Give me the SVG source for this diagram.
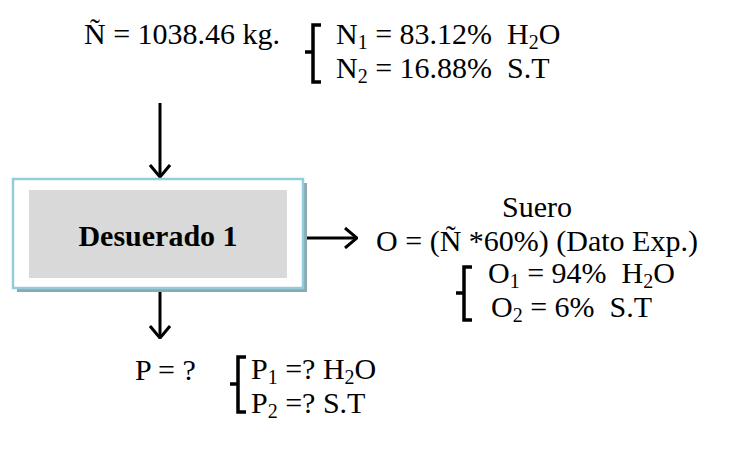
<svg xmlns="http://www.w3.org/2000/svg" width="732" height="460" viewBox="0 0 732 460">
<style>
text{font-family:"Liberation Serif","Times New Roman",serif;font-size:30px;fill:#000}
.b{font-weight:bold}
.s{font-size:20px}
.ln{stroke:#000;stroke-width:3;fill:none}
.br{stroke:#000;stroke-width:3.5;fill:none;stroke-linejoin:miter}
</style>
<defs>
<marker id="ah" viewBox="0 0 14 22" refX="13" refY="11" markerWidth="14" markerHeight="22" markerUnits="userSpaceOnUse" orient="auto">
<path d="M1,1 L13,11 L1,21" fill="none" stroke="#000" stroke-width="3"/>
</marker>
</defs>
<g id="connectors">
<line class="ln" x1="160" y1="103" x2="160" y2="177" marker-end="url(#ah)"/>
<line class="ln" x1="305" y1="238" x2="357" y2="238" marker-end="url(#ah)"/>
<line class="ln" x1="160" y1="290" x2="160" y2="338" marker-end="url(#ah)"/>
</g>
<g id="input">
<text x="84" y="44">Ñ = 1038.46 kg.</text>
<path class="br" d="M321,25 H313 V52 H305 M313,52 V82 H321"/>
<text x="336" y="44">N<tspan class="s" dy="5">1</tspan><tspan dy="-5"> = 83.12%&#160; H</tspan><tspan class="s" dy="5">2</tspan><tspan dy="-5">O</tspan></text>
<text x="336" y="78">N<tspan class="s" dy="5">2</tspan><tspan dy="-5"> = 16.88%&#160; S.T</tspan></text>
</g>
<g id="desuerado">
<rect x="17" y="183" width="290" height="109" fill="#8DA7B3"/>
<rect x="13" y="179" width="290" height="109" fill="#fff" stroke="#92CDDC" stroke-width="2.5"/>
<rect x="29" y="190" width="258" height="88" fill="#D9D9D9"/>
<text class="b" x="158" y="246" text-anchor="middle">Desuerado 1</text>
</g>
<g id="suero">
<text x="537" y="217" text-anchor="middle">Suero</text>
<text x="537" y="251" text-anchor="middle">O = (Ñ *60%) (Dato Exp.)</text>
<path class="br" d="M472,267 H464 V293 H456 M464,293 V320 H472"/>
<text x="488" y="283">O<tspan class="s" dy="5">1</tspan><tspan dy="-5"> = 94%&#160; H</tspan><tspan class="s" dy="5">2</tspan><tspan dy="-5">O</tspan></text>
<text x="491" y="317">O<tspan class="s" dy="5">2</tspan><tspan dy="-5"> = 6%&#160; S.T</tspan></text>
</g>
<g id="producto">
<text x="135" y="380">P = ?</text>
<path class="br" d="M246,357 H238 V384 H230 M238,384 V412 H246"/>
<text x="251" y="379">P<tspan class="s" dy="5">1</tspan><tspan dy="-5"> =? H</tspan><tspan class="s" dy="5">2</tspan><tspan dy="-5">O</tspan></text>
<text x="251" y="413">P<tspan class="s" dy="5">2</tspan><tspan dy="-5"> =? S.T</tspan></text>
</g>
</svg>
